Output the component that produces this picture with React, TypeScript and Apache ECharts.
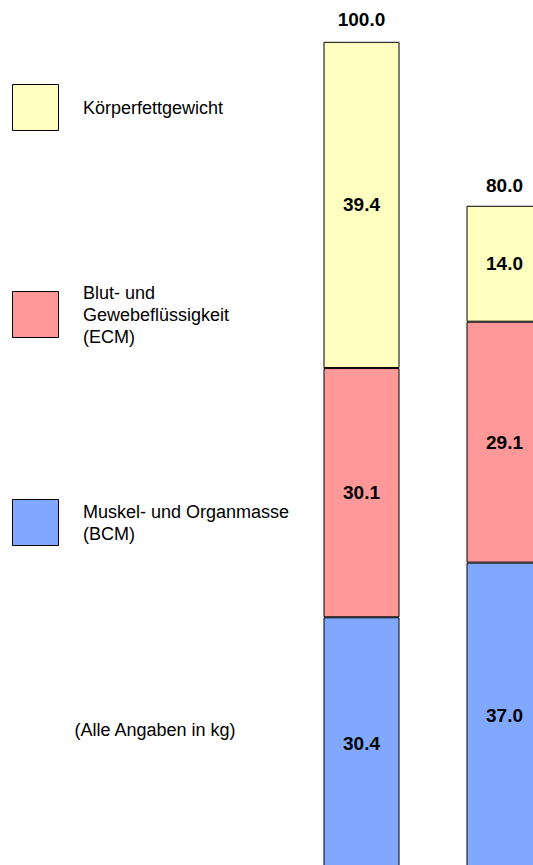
import React, { useEffect, useRef } from "react";
import * as echarts from "echarts";

const categories = ["A", "B"];
const bcm = [30.4, 37.0];
const ecm = [30.1, 29.1];
const fat = [39.4, 14.0];
const totals = [100.0, 80.0];

const legendItems = [
  { label: "Körperfettgewicht", color: "#FFFFC0" },
  { label: "Blut- und\nGewebeflüssigkeit\n(ECM)", color: "#FF9898" },
  { label: "Muskel- und Organmasse\n(BCM)", color: "#80A8FF" },
];
const note = "(Alle Angaben in kg)";

const FONT = "'Liberation Sans', Arial, Helvetica, sans-serif";

export default function App() {
  const ref = useRef<HTMLDivElement>(null);
  useEffect(() => {
    document.body.style.margin = "0";
    if (!ref.current) return;
    const chart = echarts.init(ref.current, null, { renderer: "svg" });
    const labelStyle = {
      show: true,
      position: "inside" as const,
      fontFamily: FONT,
      fontSize: 19,
      fontWeight: "bold" as const,
      color: "#000",
      formatter: (p: any) => Number(p.value).toFixed(1),
    };
    const mk = (name: string, data: number[], color: string) => ({
      name,
      type: "bar",
      stack: "total",
      data,
      barWidth: 76,
      itemStyle: { color, borderColor: "#000", borderWidth: 1 },
      label: labelStyle,
      silent: true,
    });
    const legendY = [108, 315, 523];
    const graphic: any[] = [];
    legendItems.forEach((it, i) => {
      graphic.push({
        type: "rect",
        shape: { x: 12.5, y: legendY[i] - 23.5, width: 46, height: 46 },
        style: { fill: it.color, stroke: "#000", lineWidth: 1 },
      });
      graphic.push({
        type: "text",
        x: 83,
        y: legendY[i],
        style: {
          text: it.label,
          fontFamily: FONT,
          fontSize: 18,
          lineHeight: 22,
          fill: "#000",
          verticalAlign: "middle",
          textAlign: "left",
        },
      });
    });
    graphic.push({
      type: "text",
      x: 155,
      y: 730,
      style: {
        text: note,
        fontFamily: FONT,
        fontSize: 18,
        fill: "#000",
        verticalAlign: "middle",
        textAlign: "center",
      },
    });
    chart.setOption({
      animation: false,
      grid: { left: 290, width: 286, top: 41, height: 828, outerBoundsMode: "none", containLabel: false },
      xAxis: {
        type: "category",
        data: categories,
        show: false,
      },
      yAxis: { type: "value", min: 0, max: 100, show: false },
      graphic,
      series: [
        mk("BCM", bcm, "#80A8FF"),
        mk("ECM", ecm, "#FF9898"),
        mk("Fett", fat, "#FFFFC0"),
        {
          name: "Total",
          type: "bar",
          data: totals,
          barWidth: 76,
          barGap: "-100%",
          z: 1,
          silent: true,
          itemStyle: { color: "rgba(0,0,0,0)", borderWidth: 0 },
          label: {
            show: true,
            position: "top",
            distance: 12,
            fontFamily: FONT,
            fontSize: 19,
            fontWeight: "bold",
            color: "#000",
            formatter: (p: any) => Number(p.value).toFixed(1),
          },
        },
      ],
    });
    return () => chart.dispose();
  }, []);
  return <div ref={ref} style={{ width: 533, height: 865 }} />;
}
